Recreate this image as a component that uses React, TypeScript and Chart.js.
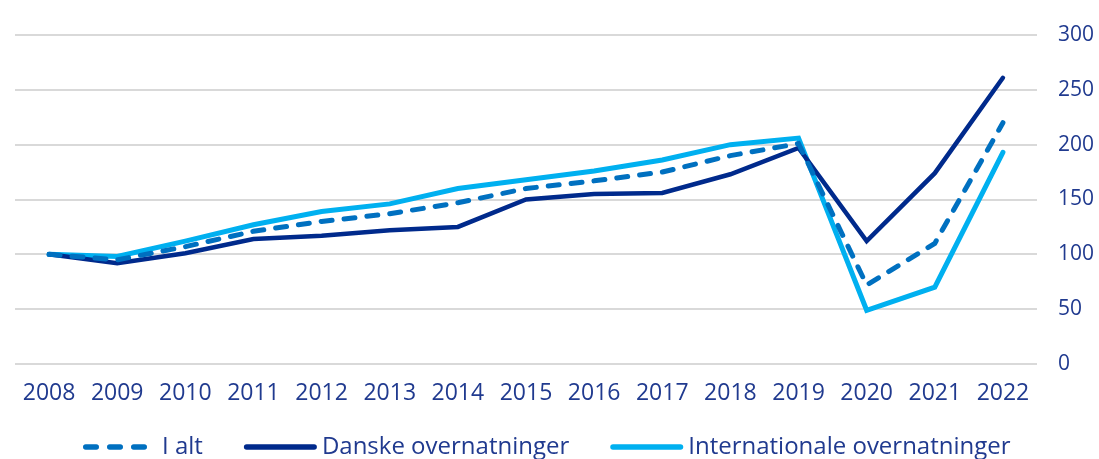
import React, { useEffect, useRef } from "react";
import { Chart, registerables } from "chart.js";

Chart.register(...registerables);

const years = ["2008", "2009", "2010", "2011", "2012", "2013", "2014", "2015", "2016", "2017", "2018", "2019", "2020", "2021", "2022"];
const iAlt = [100, 95, 107, 121, 130, 137, 147, 160, 167, 175, 190, 201, 72, 110, 220];
const danske = [100, 92, 101, 114, 117, 122, 125, 150, 155, 156, 173, 197, 112, 174, 261];
const internationale = [100, 98, 112, 127, 139, 146, 160, 168, 176, 186, 200, 206, 49, 70, 193];
const seriesNames = ["I alt", "Danske overnatninger", "Internationale overnatninger"];
const seriesColors = ["#0070C0", "#002A8C", "#00B0F0"];

const TEXT = "#203A8F";
const FONT = "'Open Sans', 'DejaVu Sans', sans-serif";

const legendPlugin = {
  id: "customLegend",
  afterDraw(chart: any) {
    const ctx = chart.ctx as CanvasRenderingContext2D;
    const y = 447;
    let x = 83;
    ctx.save();
    ctx.font = `24px ${FONT}`;
    ctx.textBaseline = "middle";
    ctx.textAlign = "left";
    chart.data.datasets.forEach((ds: any) => {
      const dashed = Array.isArray(ds.borderDash) && ds.borderDash.length > 0;
      const boxW = dashed ? 64 : 73;
      ctx.beginPath();
      ctx.strokeStyle = ds.borderColor;
      ctx.lineWidth = 5.5;
      ctx.lineCap = "round";
      ctx.setLineDash(dashed ? [10.5, 13.5] : []);
      ctx.moveTo(x + 2.75, y);
      ctx.lineTo(x + boxW - 2.75, y);
      ctx.stroke();
      ctx.setLineDash([]);
      x += boxW + (dashed ? 15 : 5);
      ctx.fillStyle = TEXT;
      ctx.fillText(ds.label, x, y);
      x += ctx.measureText(ds.label).width + 41;
    });
    ctx.restore();
  },
};

export default function App() {
  const ref = useRef<HTMLCanvasElement>(null);
  useEffect(() => {
    if (!ref.current) return;
    const chart = new Chart(ref.current, {
      type: "line",
      data: {
        labels: years,
        datasets: [
          {
            label: seriesNames[0],
            data: iAlt,
            borderColor: seriesColors[0],
            backgroundColor: seriesColors[0],
            borderWidth: 5,
            borderDash: [11, 12],
            borderCapStyle: "round",
            pointRadius: 0,
            tension: 0,
          },
          {
            label: seriesNames[1],
            data: danske,
            borderColor: seriesColors[1],
            backgroundColor: seriesColors[1],
            borderWidth: 4.5,
            borderCapStyle: "round",
            pointRadius: 0,
            tension: 0,
          },
          {
            label: seriesNames[2],
            data: internationale,
            borderColor: seriesColors[2],
            backgroundColor: seriesColors[2],
            borderWidth: 5,
            borderCapStyle: "round",
            pointRadius: 0,
            tension: 0,
          },
        ],
      },
      options: {
        responsive: false,
        animation: false,
        layout: { padding: { left: 15, top: 35, right: 0, bottom: 51 } },
        plugins: {
          tooltip: { enabled: false },
          legend: { display: false },
        },
        scales: {
          x: {
            offset: true,
            grid: { display: false, drawTicks: false, offset: true },
            border: { display: false },
            ticks: {
              color: TEXT,
              font: { family: FONT, size: 23 },
              padding: 16,
              maxRotation: 0,
              autoSkip: false,
            },
            afterFit: (scale: any) => {
              scale.height = 44;
            },
          },
          y: {
            position: "right",
            min: 0,
            max: 300,
            grid: { color: "#D9D9D9", lineWidth: 2, drawTicks: false },
            border: { display: false },
            ticks: {
              stepSize: 50,
              color: TEXT,
              font: { family: FONT, size: 21 },
              padding: 21,
            },
            afterFit: (scale: any) => {
              scale.width = 62;
            },
          },
        },
      },
      plugins: [legendPlugin],
    });
    return () => chart.destroy();
  }, []);
  return (
    <div style={{ position: "absolute", left: 0, top: 0, width: 1099, height: 459, background: "#fff" }}>
      <canvas ref={ref} width={1099} height={459} style={{ width: 1099, height: 459 }} />
    </div>
  );
}
